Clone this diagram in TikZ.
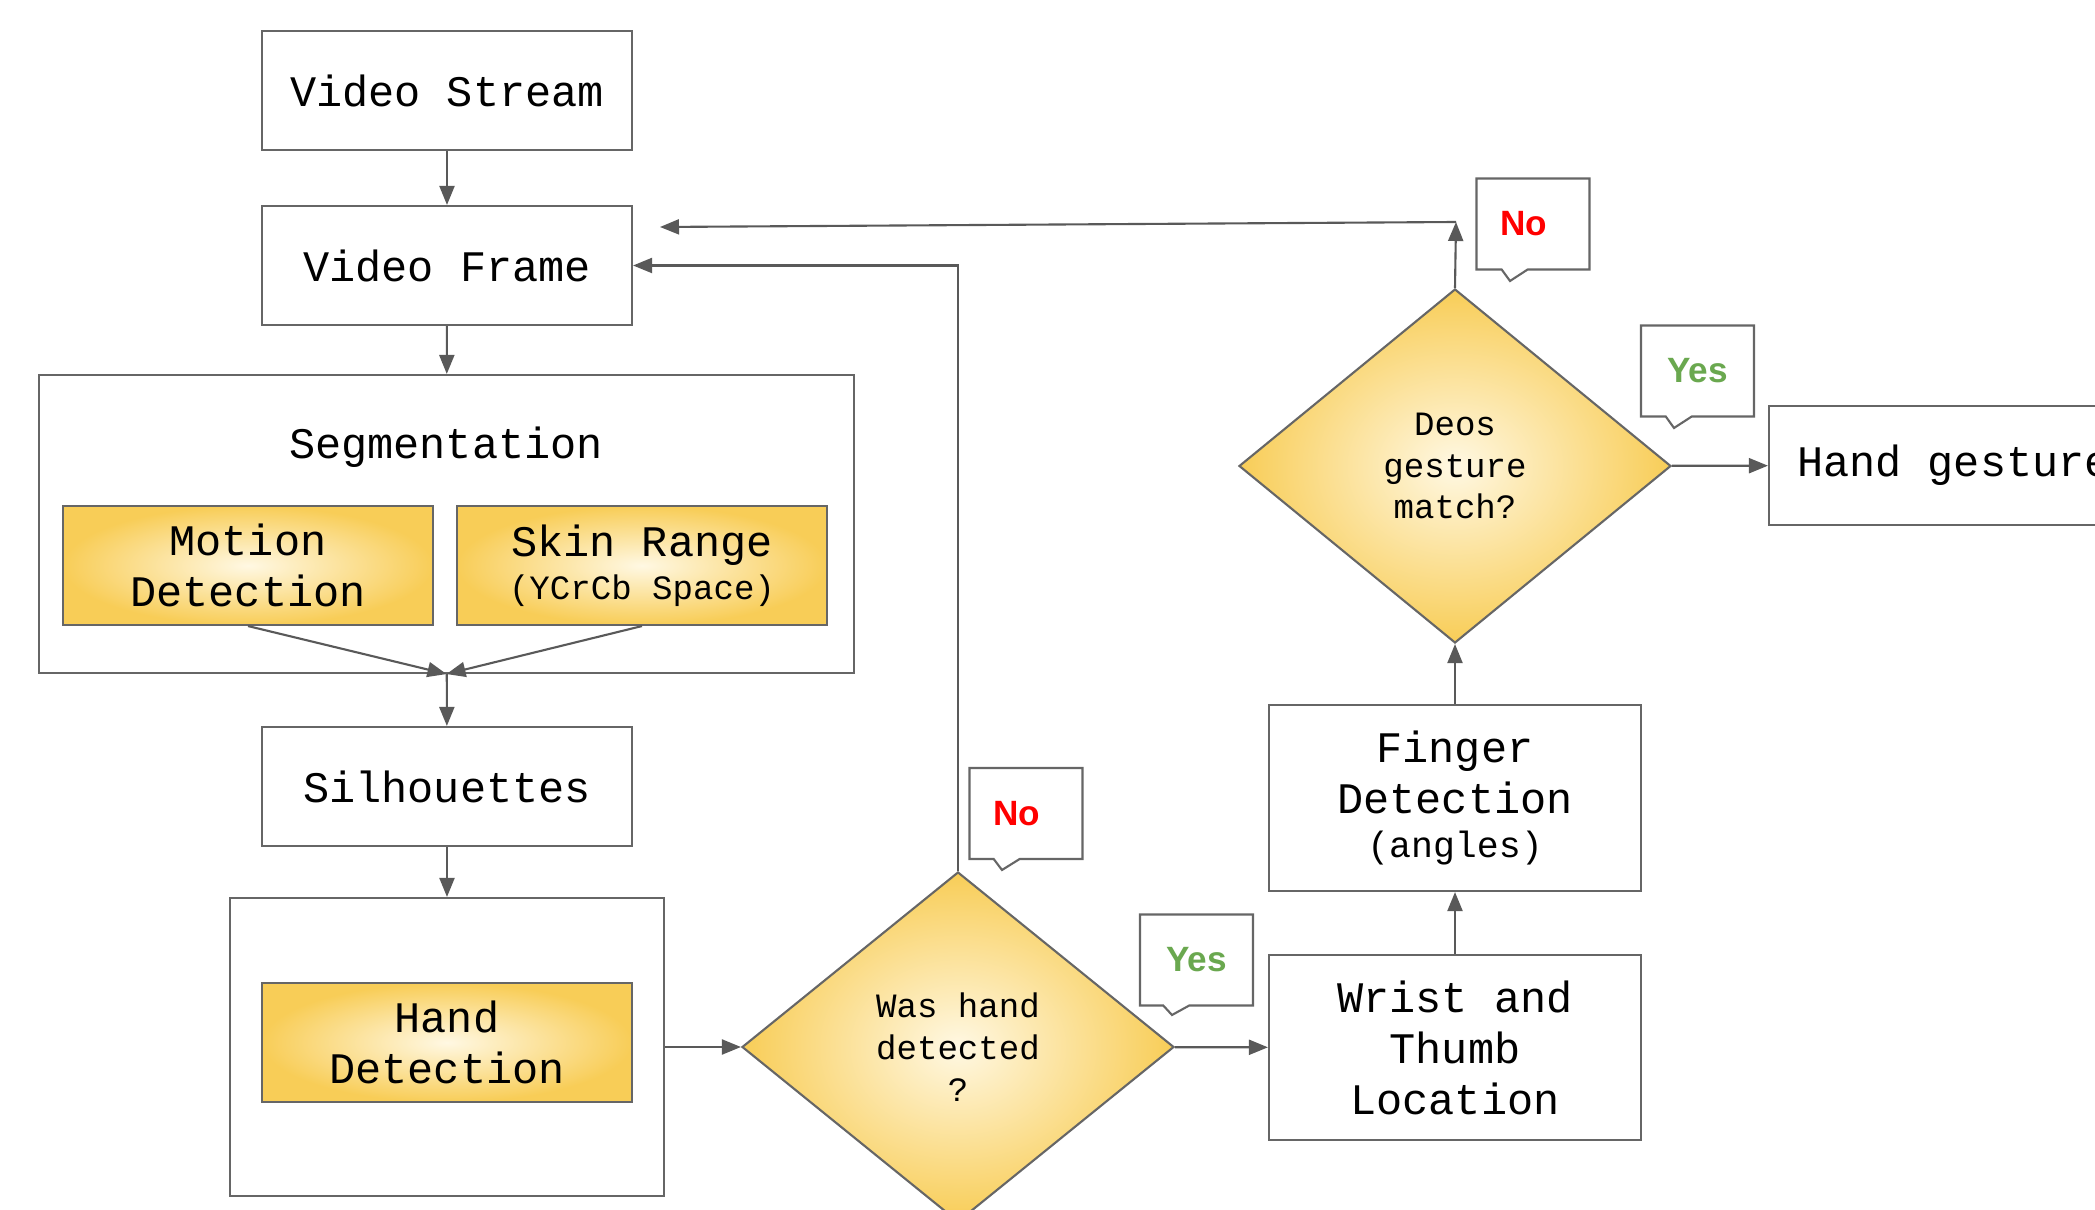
\documentclass[tikz,border=0pt]{standalone}
\usepackage{fontspec}
\newfontfamily\flowfont{Liberation Mono}
\newfontfamily\tagfont{Liberation Sans}
\usepackage{tikz}
\usetikzlibrary{arrows.meta, shapes, positioning}

\definecolor{linegray}{HTML}{595959}
\definecolor{boxgray}{HTML}{666666}
\definecolor{goldout}{HTML}{F8CD57}
\definecolor{goldin}{HTML}{FFF8E3}
\definecolor{noRed}{HTML}{FF0000}
\definecolor{yesGreen}{HTML}{6AA84F}

\tikzstyle{block} = [draw=boxgray, line width=0.6pt, minimum width=3.7cm, minimum height=1.19cm, inner sep=0pt, align=center, font=\flowfont\fontsize{12.4}{14.5}\selectfont]
\tikzstyle{gold} = [block, inner color=goldin, outer color=goldout]
\tikzstyle{frame} = [draw=boxgray, line width=0.6pt, inner sep=0pt]
\tikzstyle{decision} = [diamond, draw=boxgray, line width=0.6pt, inner sep=0pt, minimum width=4.32cm, minimum height=3.5cm, inner color=goldin, outer color=goldout, align=center, font=\flowfont\fontsize{9.7}{11.9}\selectfont]
\tikzstyle{answer} = [rectangle callout, draw=boxgray, fill=white, line width=0.6pt, minimum width=1.13cm, minimum height=0.91cm, callout pointer width=0.26cm, font=\tagfont\bfseries\fontsize{10}{12}\selectfont]
\tikzstyle{flow} = [draw=linegray, line width=0.6pt, -{Triangle[length=0.19cm, width=0.15cm]}]

\begin{document}
\begin{tikzpicture}
			\useasboundingbox (0, 0) rectangle (20.95, -12.10);
			\clip (0, 0) rectangle (20.95, -12.10);

			\node (Stream) [block] at (4.47, -0.905) {Video Stream};
			\node (Frame) [block] at (4.47, -2.655) {Video Frame};

			\node (Seg) [frame, minimum width=8.15cm, minimum height=2.98cm] at (4.465, -5.24) {};
			\node (SegTitle) [font=\flowfont\fontsize{12.4}{14.5}\selectfont] at (4.46, -4.47) {Segmentation};
			\node (Motion) [gold] at (2.48, -5.655) {Motion\\Detection};
			\node (Skin) [gold] at (6.42, -5.655) {Skin Range\\[-2.3pt]{\fontsize{9.7}{11}\selectfont (YCrCb Space)}};

			\node (Silh) [block] at (4.47, -7.865) {Silhouettes};

			\node (HandBox) [frame, minimum width=4.34cm, minimum height=2.98cm] at (4.47, -10.47) {};
			\node (HandDet) [gold] at (4.47, -10.425) {Hand\\Detection};

			\node (Detect) [decision] at (9.58, -10.47) {Was hand\\detected\\?};
			\node (Wrist) [block, minimum width=3.72cm, minimum height=1.85cm] at (14.55, -10.475) {Wrist and\\Thumb\\Location};
			\node (Finger) [block, minimum width=3.72cm, minimum height=1.86cm] at (14.55, -7.98) {Finger\\Detection\\[-1.8pt]{\fontsize{10.4}{12}\selectfont (angles)}};
			\node (Match) [decision, minimum height=3.54cm] at (14.55, -4.66) {Deos\\gesture\\match?};
			\node (Gesture) [block] at (19.54, -4.655) {Hand gesture};

			\node (NoDetect) [answer, text=noRed, callout absolute pointer={(10.02, -8.70)}] at (10.26, -8.135) {No\hspace*{0.18cm}};
			\node (YesDetect) [answer, text=yesGreen, callout absolute pointer={(11.72, -10.15)}] at (11.965, -9.60) {Yes};
			\node (NoMatch) [answer, text=noRed, callout absolute pointer={(15.10, -2.81)}] at (15.33, -2.24) {No\hspace*{0.18cm}};
			\node (YesMatch) [answer, text=yesGreen, callout absolute pointer={(16.74, -4.28)}] at (16.975, -3.71) {Yes};

			\coordinate (Turn) at (14.56, -2.22);
			\coordinate (Back) at (6.60, -2.27);

			\draw [flow] (Stream) -- (Frame);
			\draw [flow] (Frame) -- (Seg);
			\draw [flow] (Motion.south) -- (Seg.south);
			\draw [flow] (Skin.south) -- (Seg.south);
			\draw [flow] (Seg) -- (Silh);
			\draw [flow] (Silh) -- (HandBox);
			\draw [flow] (HandBox) -- (Detect);
			\draw [flow] (Detect) -- (Wrist);
			\draw [flow] (Detect.north) |- (Frame.east);
			\draw [flow] (Wrist) -- (Finger);
			\draw [flow] (Finger) -- (Match);
			\draw [flow] (Match) -- (Gesture);
			\draw [flow] (Match.north) -- (Turn);
			\draw [flow] (Turn) -- (Back);
		\end{tikzpicture}
\end{document}
